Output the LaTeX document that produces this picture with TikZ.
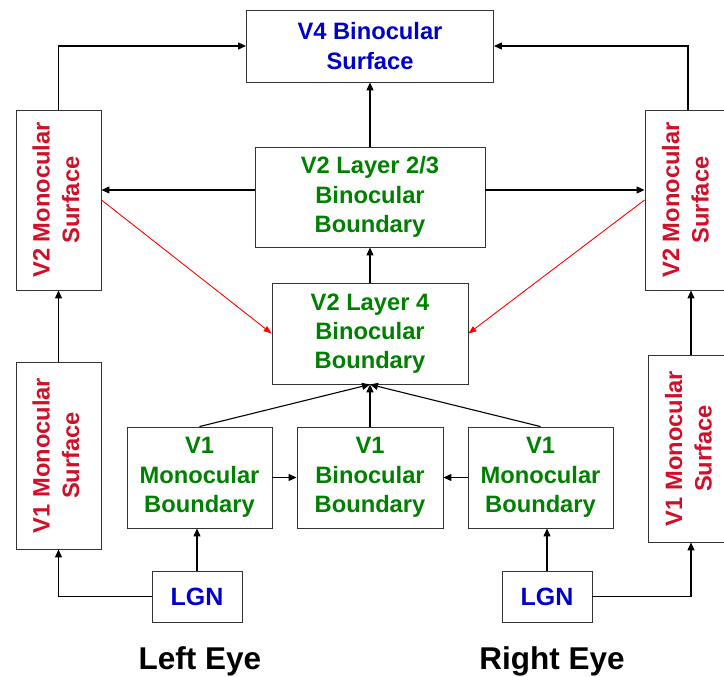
\documentclass[tikz,border=0pt]{standalone}
\usepackage{fontspec}
\setmainfont{Liberation Sans}
\usepackage{graphicx}
\usetikzlibrary{arrows.meta}
\definecolor{tblue}{RGB}{0,0,200}
\definecolor{tgreen}{RGB}{0,128,0}
\definecolor{tred}{RGB}{208,16,40}
\definecolor{lred}{RGB}{255,0,0}
\newcommand{\rtext}[2]{\rotatebox{90}{\begin{tabular}{@{}c@{}}#1\\#2\end{tabular}}}
\begin{document}
\begin{tikzpicture}[x=1pt,y=-1pt,
  box/.style={draw=black!80, line width=0.9pt, inner sep=0pt, align=center,
    font=\fontsize{23.7}{29.3}\selectfont\bfseries},
  rlab/.style={text=tred, inner sep=0pt, font=\fontsize{23.7}{29.3}\selectfont\bfseries},
  arr/.style={draw=black, line width=1.1pt, -{Triangle[length=8pt,width=7pt]}},
  rarr/.style={draw=lred, line width=0.9pt, -{Triangle[length=8pt,width=6pt]}},
  eye/.style={inner sep=0pt, font=\fontsize{31.5}{36}\selectfont\bfseries}]
\useasboundingbox (0,0) rectangle (724,677);
% boxes
\node[box, text=tblue, minimum width=247pt, minimum height=72pt] (v4) at (370,46) {V4 Binocular\\Surface};
\node[box, minimum width=85pt, minimum height=180pt] (lv2) at (58.5,200) {};
\node[rlab] (lv2t) at (lv2) {\rtext{V2 Monocular}{Surface}};
\node[box, minimum width=86pt, minimum height=180pt] (rv2) at (688,200) {};
\node[rlab] (rv2t) at (rv2) {\rtext{V2 Monocular}{Surface}};
\node[box, minimum width=85pt, minimum height=187pt] (lv1) at (58.5,455.5) {};
\node[rlab] (lv1t) at (lv1) {\rtext{V1 Monocular}{Surface}};
\node[box, minimum width=86pt, minimum height=187pt] (rv1) at (691,448.5) {};
\node[rlab] (rv1t) at (rv1) {\rtext{V1 Monocular}{Surface}};
\node[box, text=tgreen, minimum width=230pt, minimum height=100pt] (v23) at (370,197) {V2 Layer 2/3\\Binocular\\Boundary};
\node[box, text=tgreen, minimum width=196pt, minimum height=101pt] (v24) at (370,333.5) {V2 Layer 4\\Binocular\\Boundary};
\node[box, text=tgreen, minimum width=145pt, minimum height=101pt] (v1ml) at (199.5,477.5) {V1\\Monocular\\Boundary};
\node[box, text=tgreen, minimum width=146pt, minimum height=101pt] (v1b) at (370,477.5) {V1\\Binocular\\Boundary};
\node[box, text=tgreen, minimum width=145pt, minimum height=101pt] (v1mr) at (540.5,477.5) {V1\\Monocular\\Boundary};
\node[box, text=tblue, minimum width=90pt, minimum height=51pt, font=\fontsize{25}{29}\selectfont\bfseries] (lgnl) at (197,596.5) {LGN};
\node[box, text=tblue, minimum width=90pt, minimum height=51pt, font=\fontsize{25}{29}\selectfont\bfseries] (lgnr) at (547,596.5) {LGN};
\node[eye] (le) at (200,661) {Left Eye};
\node[eye] (re) at (552,661) {Right Eye};
% connectors
\coordinate (h1) at (0,190);
\draw[arr] (lv2.north) |- (v4.west);
\draw[arr] (rv2.north) |- (v4.east);
\draw[arr] (v23.north) -- (v4.south);
\draw[arr] (v23.west|-h1) -- (lv2.east|-h1);
\draw[arr] (v23.east|-h1) -- (rv2.west|-h1);
\draw[rarr] (lv2.east) -- (v24.west);
\draw[rarr] (rv2.west) -- (v24.east);
\draw[arr] (v24.north) -- (v23.south);
\draw[arr] (v1ml.north) -- (v24.south);
\draw[arr, line width=1.5pt] (v1b.north) -- (v24.south);
\draw[arr] (v1mr.north) -- (v24.south);
\draw[arr] (v1ml.east) -- (v1b.west);
\draw[arr] (v1mr.west) -- (v1b.east);
\draw[arr] (lgnl.north) -- (v1ml.south-|lgnl.north);
\draw[arr] (lgnr.north) -- (v1mr.south-|lgnr.north);
\draw[arr] (lgnl.west) -| (lv1.south);
\draw[arr] (lgnr.east) -| (rv1.south);
\draw[arr] (lv1.north) -- (lv2.south);
\draw[arr] (rv1.north) -- (rv1.north|-rv2.south);
\end{tikzpicture}
\end{document}
